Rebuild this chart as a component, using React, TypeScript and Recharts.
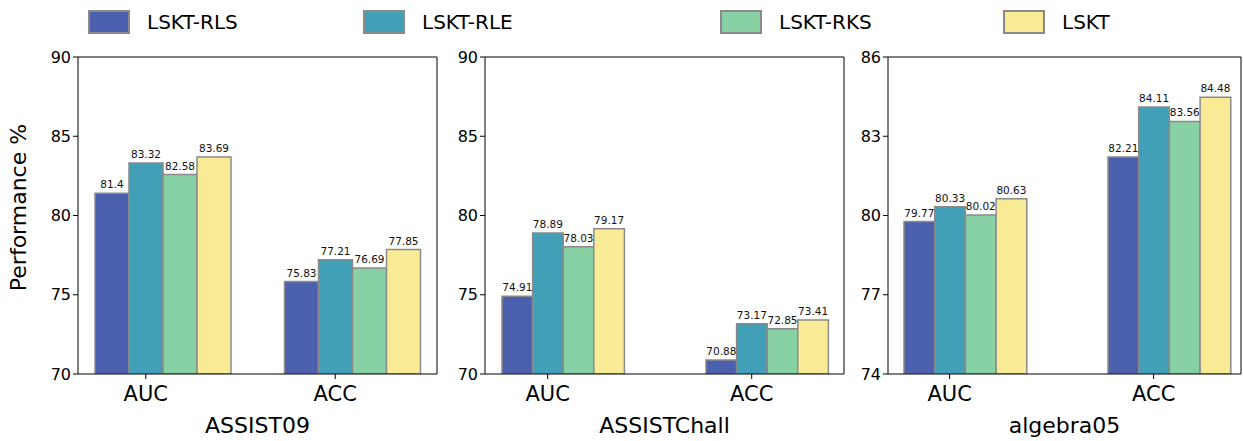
import { BarChart, Bar, XAxis, YAxis, LabelList } from 'recharts';

const categories = ['AUC', 'ACC'];
const seriesNames = ['LSKT-RLS', 'LSKT-RLE', 'LSKT-RKS', 'LSKT'];
const seriesColors = ['#4b60ae', '#41a0b8', '#88d1a4', '#f9eb96'];

// ASSIST09
const assist09RLS = [81.4, 75.83];
const assist09RLE = [83.32, 77.21];
const assist09RKS = [82.58, 76.69];
const assist09LSKT = [83.69, 77.85];

// ASSISTChall
const challRLS = [74.91, 70.88];
const challRLE = [78.89, 73.17];
const challRKS = [78.03, 72.85];
const challLSKT = [79.17, 73.41];

// algebra05
const algebraRLS = [79.77, 82.21];
const algebraRLE = [80.33, 84.11];
const algebraRKS = [80.02, 83.56];
const algebraLSKT = [80.63, 84.48];

const ticks0970 = [70, 75, 80, 85, 90];
const ticksAlgebra = [74, 77, 80, 83, 86];

const toRows = (series: number[][]) =>
  categories.map((cat, i) => ({
    cat,
    s0: series[0][i],
    s1: series[1][i],
    s2: series[2][i],
    s3: series[3][i],
  }));

const panels = [
  {
    title: 'ASSIST09',
    rows: toRows([assist09RLS, assist09RLE, assist09RKS, assist09LSKT]),
    domain: [70, 90],
    ticks: ticks0970,
    left: 0, width: 445, yWidth: 78, marginRight: 7,
    barSize: 34, padL: -10, padR: -10, yLabel: true,
  },
  {
    title: 'ASSISTChall',
    rows: toRows([challRLS, challRLE, challRKS, challLSKT]),
    domain: [70, 90],
    ticks: ticks0970,
    left: 445, width: 405, yWidth: 40, marginRight: 5,
    barSize: 30.6, padL: -24, padR: -25, yLabel: false,
  },
  {
    title: 'algebra05',
    rows: toRows([algebraRLS, algebraRLE, algebraRKS, algebraLSKT]),
    domain: [74, 86],
    ticks: ticksAlgebra,
    left: 850, width: 393, yWidth: 38, marginRight: 1,
    barSize: 30.7, padL: -25, padR: -30, yLabel: false,
  },
];

const legendBoxes = [88, 363, 720, 1003];

function CatTick(props: any) {
  const { x, y, payload, shift } = props;
  const cx = x - shift;
  return (
    <g>
      <line x1={cx} y1={y} x2={cx} y2={y + 5} stroke="#000" />
      <text x={cx} y={y + 27} textAnchor="middle" fontSize={21} fill="#000">
        {payload.value}
      </text>
    </g>
  );
}

function Panel({ p }: { p: (typeof panels)[number] }) {
  return (
    <div style={{ position: 'absolute', left: p.left, top: 0 }}>
      <BarChart
        width={p.width}
        height={441}
        data={p.rows}
        margin={{ top: 56, right: p.marginRight, bottom: 0, left: 0 }}
        barGap={0}
      >
        <XAxis
          dataKey="cat"
          interval={0}
          height={67}
          padding={{ left: p.padL, right: p.padR }}
          axisLine={{ stroke: '#000' }}
          tickLine={false}
          tickSize={0}
          tickMargin={0}
          tick={(t: any) => <CatTick {...t} shift={p.barSize / 2} />}
          label={(lp: any) => {
            const vb = lp.viewBox;
            return (
              <text x={vb.x + vb.width / 2} y={vb.y + 59} textAnchor="middle" fontSize={22} fill="#000">
                {p.title}
              </text>
            );
          }}
        />
        <XAxis
          xAxisId="top"
          orientation="top"
          dataKey="cat"
          height={1}
          tick={false}
          tickLine={false}
          axisLine={{ stroke: '#000' }}
        />
        <YAxis
          domain={p.domain}
          ticks={p.ticks}
          allowDataOverflow
          width={p.yWidth}
          tickSize={5}
          tick={{ fontSize: 16, fill: '#000' }}
          tickLine={{ stroke: '#000' }}
          axisLine={{ stroke: '#000' }}
          label={
            p.yLabel
              ? (lp: any) => {
                  const vb = lp.viewBox;
                  const cx = 18;
                  const cy = vb.y + vb.height / 2 - 8;
                  return (
                    <text
                      x={cx}
                      y={cy}
                      transform={`rotate(-90 ${cx} ${cy})`}
                      textAnchor="middle"
                      dominantBaseline="central"
                      fontSize={22}
                      fill="#000"
                    >
                      Performance %
                    </text>
                  );
                }
              : undefined
          }
        />
        <YAxis
          yAxisId="right"
          orientation="right"
          domain={p.domain}
          width={1}
          tick={false}
          tickLine={false}
          axisLine={{ stroke: '#000' }}
        />
        {seriesNames.map((name, i) => (
          <Bar
            key={name}
            dataKey={`s${i}`}
            name={name}
            fill={seriesColors[i]}
            stroke="#8a8a8a"
            strokeWidth={1.5}
            barSize={p.barSize}
            isAnimationActive={false}
          >
            <LabelList dataKey={`s${i}`} position="top" fontSize={10.5} fill="#111" />
          </Bar>
        ))}
      </BarChart>
    </div>
  );
}

export default function App() {
  return (
    <div
      style={{
        position: 'absolute',
        left: 0,
        top: 0,
        width: 1243,
        height: 441,
        background: '#fff',
        fontFamily: '"DejaVu Sans", sans-serif',
        overflow: 'hidden',
      }}
    >
      {seriesNames.map((name, i) => (
        <div key={name} style={{ position: 'absolute', left: legendBoxes[i], top: 10, height: 24, display: 'flex', alignItems: 'center' }}>
          <div
            style={{
              width: 38,
              height: 20,
              background: seriesColors[i],
              border: '2px solid #8a8a8a',
            }}
          />
          <span style={{ marginLeft: 17, fontSize: 20, color: '#000', whiteSpace: 'nowrap' }}>{name}</span>
        </div>
      ))}
      {panels.map((p) => (
        <Panel key={p.title} p={p} />
      ))}
    </div>
  );
}
